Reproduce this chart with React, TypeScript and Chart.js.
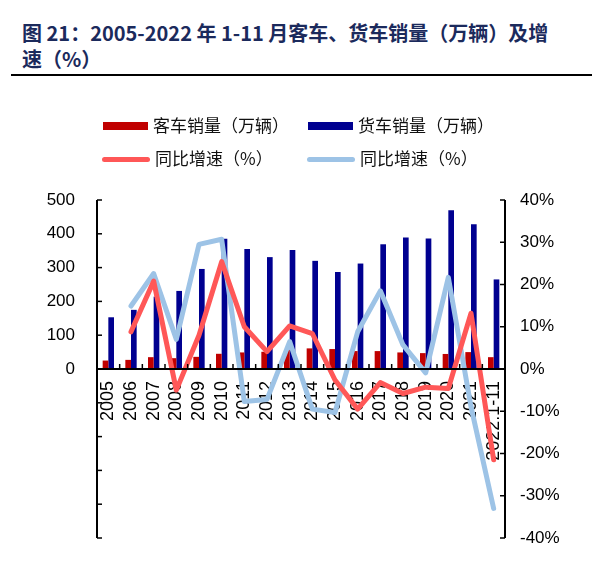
import React, { useEffect, useRef } from 'react';
import { Chart, registerables } from 'chart.js';

Chart.register(...registerables);

const categories = ['2005', '2006', '2007', '2008', '2009', '2010', '2011', '2012', '2013', '2014', '2015', '2016', '2017', '2018', '2019', '2020', '2021', '2022.1-11'];
const busSales = [25, 27, 35, 32, 36, 45, 49, 51, 56, 61, 59, 53, 53, 49, 47, 44.5, 50, 35];
const truckSales = [153, 175, 214, 231, 296, 385, 355, 331, 352, 320, 287, 312, 369, 389, 386, 470, 428, 265];
const busGrowth = [null, 8.8, 20.8, -5, 8, 25.4, 10, 4.1, 10.2, 8.4, -2.6, -9.5, -3.2, -5.8, -4.3, -4.6, 13.2, -21.5];
const truckGrowth = [null, 14.9, 22.6, 7, 29.5, 30.7, -7.7, -7.2, 6.5, -9.5, -10.3, 8.8, 18.5, 5.7, -0.9, 21.7, -8.9, -33];

const legendLabels = ['客车销量（万辆）', '货车销量（万辆）', '同比增速（%）', '同比增速（%）'];
const titleLine1 = '图 21：2005-2022 年 1-11 月客车、货车销量（万辆）及增';
const titleLine2 = '速（%）';

const RED_BAR = '#C00000';
const BLUE_BAR = '#000090';
const RED_LINE = '#FF5757';
const BLUE_LINE = '#9DC3E6';

const axesPlugin = {
  id: 'customAxes',
  afterDatasetsDraw(chart: any) {
    const { ctx, chartArea: ca, scales } = chart;
    const y = scales.y;
    const y1 = scales.y1;
    const x = scales.x;
    const line = (x0: number, yA: number, x1: number, yB: number) => {
      ctx.beginPath();
      ctx.moveTo(x0, yA);
      ctx.lineTo(x1, yB);
      ctx.stroke();
    };
    ctx.save();
    ctx.strokeStyle = '#000';
    ctx.lineWidth = 2;
    line(ca.left, ca.top, ca.left, ca.bottom);
    line(ca.right, ca.top, ca.right, ca.bottom);
    const y0 = y.getPixelForValue(0);
    line(ca.left, y0, ca.right, y0);
    ctx.lineWidth = 1.5;
    y.ticks.forEach((t: any) => {
      const py = y.getPixelForValue(t.value);
      line(ca.left, py, ca.left + 5, py);
    });
    y1.ticks.forEach((t: any) => {
      const py = y1.getPixelForValue(t.value);
      line(ca.right - 5, py, ca.right, py);
    });
    const n = x.ticks.length;
    const w = (ca.right - ca.left) / n;
    for (let i = 1; i < n; i++) {
      const px = ca.left + i * w;
      line(px, y0, px, y0 - 5);
    }
    ctx.restore();
  },
};

export default function App() {
  const canvasRef = useRef<HTMLCanvasElement | null>(null);

  useEffect(() => {
    if (!canvasRef.current) return;
    Chart.defaults.font.family = '"Liberation Sans", Arial, sans-serif';
    const chart = new Chart(canvasRef.current, {
      type: 'bar',
      data: {
        labels: categories,
        datasets: [
          {
            type: 'line',
            label: legendLabels[2],
            data: busGrowth,
            yAxisID: 'y1',
            borderColor: RED_LINE,
            backgroundColor: RED_LINE,
            borderWidth: 5,
            pointRadius: 0,
            tension: 0,
            borderCapStyle: 'round',
            borderJoinStyle: 'round',
            order: 1,
          } as any,
          {
            type: 'line',
            label: legendLabels[3],
            data: truckGrowth,
            yAxisID: 'y1',
            borderColor: BLUE_LINE,
            backgroundColor: BLUE_LINE,
            borderWidth: 5,
            pointRadius: 0,
            tension: 0,
            borderCapStyle: 'round',
            borderJoinStyle: 'round',
            order: 2,
          } as any,
          {
            type: 'bar',
            label: legendLabels[0],
            data: busSales,
            yAxisID: 'y',
            backgroundColor: RED_BAR,
            categoryPercentage: 0.5,
            barPercentage: 1,
            order: 3,
          },
          {
            type: 'bar',
            label: legendLabels[1],
            data: truckSales,
            yAxisID: 'y',
            backgroundColor: BLUE_BAR,
            categoryPercentage: 0.5,
            barPercentage: 1,
            order: 4,
          },
        ],
      },
      options: {
        responsive: false,
        animation: false,
        maintainAspectRatio: false,
        layout: { padding: { top: 200, bottom: 42, left: 0, right: 0 } },
        plugins: {
          legend: { display: false },
          tooltip: { enabled: false },
          title: { display: false },
        },
        scales: {
          x: {
            type: 'category',
            position: { y: 0 } as any,
            offset: true,
            grid: { display: false, drawTicks: false },
            border: { display: false },
            ticks: {
              autoSkip: false,
              minRotation: 90,
              maxRotation: 90,
              padding: 12,
              color: '#000',
              font: { size: 18 },
            },
          },
          y: {
            position: 'left',
            min: -500,
            max: 500,
            grid: { display: false, drawTicks: false },
            border: { display: false },
            ticks: {
              stepSize: 100,
              padding: 22,
              color: '#000',
              font: { size: 17 },
              callback: (v: any) => (Number(v) >= 0 ? String(v) : ''),
            },
            afterFit: (s: any) => {
              s.width = 97;
            },
          },
          y1: {
            position: 'right',
            min: -40,
            max: 40,
            grid: { display: false, drawTicks: false },
            border: { display: false },
            ticks: {
              stepSize: 10,
              padding: 15,
              color: '#000',
              font: { size: 17 },
              callback: (v: any) => `${v}%`,
            },
            afterFit: (s: any) => {
              s.width = 102;
            },
          },
        },
      },
      plugins: [axesPlugin],
    });
    return () => chart.destroy();
  }, []);

  const legendText: React.CSSProperties = {
    position: 'absolute',
    fontFamily: '"Noto Sans CJK SC", sans-serif',
    fontSize: 17,
    lineHeight: '20px',
    color: '#111',
    whiteSpace: 'nowrap',
  };

  return (
    <div style={{ position: 'absolute', left: 0, top: 0, width: 607, height: 580, background: '#fff' }}>
      <div
        style={{
          position: 'absolute',
          left: 22,
          top: 20,
          fontFamily: '"Noto Sans CJK SC", sans-serif',
          fontWeight: 700,
          fontSize: 20,
          lineHeight: '26px',
          color: '#1B2A5C',
          whiteSpace: 'nowrap',
        }}
      >
        {titleLine1}
        <br />
        {titleLine2}
      </div>
      <div style={{ position: 'absolute', left: 11, top: 74, width: 581, height: 2, background: '#000' }} />
      <canvas ref={canvasRef} width={607} height={580} style={{ position: 'absolute', left: 0, top: 0 }} />
      <div style={{ position: 'absolute', left: 103, top: 122, width: 45, height: 8, background: RED_BAR }} />
      <div style={{ ...legendText, left: 153, top: 115 }}>{legendLabels[0]}</div>
      <div style={{ position: 'absolute', left: 308, top: 122, width: 45, height: 8, background: BLUE_BAR }} />
      <div style={{ ...legendText, left: 358, top: 115 }}>{legendLabels[1]}</div>
      <div style={{ position: 'absolute', left: 102, top: 157, width: 48, height: 5, borderRadius: 3, background: RED_LINE }} />
      <div style={{ ...legendText, left: 155, top: 148 }}>{legendLabels[2]}</div>
      <div style={{ position: 'absolute', left: 307, top: 157, width: 48, height: 5, borderRadius: 3, background: BLUE_LINE }} />
      <div style={{ ...legendText, left: 360, top: 148 }}>{legendLabels[3]}</div>
    </div>
  );
}
